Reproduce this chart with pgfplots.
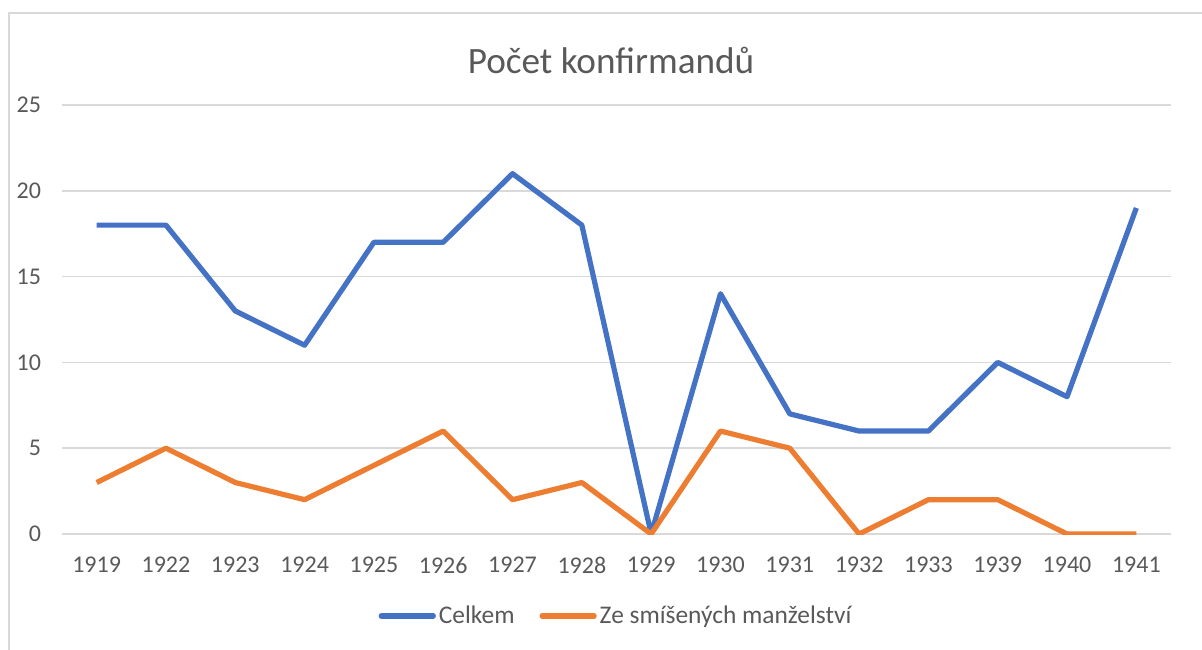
\documentclass[border=0pt]{standalone}
\usepackage{pgfplots}
\pgfplotsset{compat=1.18}
\usepackage{fontspec}
\setmainfont{Carlito}
\definecolor{cblue}{HTML}{4472C4}
\definecolor{corange}{HTML}{ED7D31}
\definecolor{cgrid}{HTML}{D9D9D9}
\definecolor{ctext}{HTML}{595959}
\begin{document}
\begin{tikzpicture}
\useasboundingbox (0pt,0pt) rectangle (601pt,324.5pt);
\begin{scope}
\clip (0pt,0pt) rectangle (601pt,324.5pt);
\draw[cgrid, line width=1pt] (4.25pt,-5pt) -- (4.25pt,317.75pt) -- (610pt,317.75pt);
\end{scope}
\node[text=ctext, font=\fontsize{18.6}{22}\selectfont] at (305.5pt,294.5pt) {Počet konfirmandů};
\begin{axis}[
  at={(31pt,57.5pt)}, anchor=south west,
  scale only axis, width=554.5pt, height=214.5pt,
  xmin=-0.5, xmax=15.5, ymin=0, ymax=25,
  xtick={0,...,15},
  xticklabels={1919,1922,1923,1924,1925,1926,1927,1928,1929,1930,1931,1932,1933,1939,1940,1941},
  ytick={0,5,10,15,20,25},
  ymajorgrids, grid style={cgrid, line width=0.75pt},
  axis line style={draw=none},
  major tick length=0pt,
  /pgf/number format/assume math mode=true,
  ticklabel style={text=ctext, font=\fontsize{12}{14}\selectfont},
  yticklabel style={anchor=east, xshift=-7pt},
  xticklabel style={anchor=center, yshift=-15.5pt},
  legend columns=2,
  legend style={at={(0.5,-0.191)}, anchor=center, draw=none, fill=none,
    font=\fontsize{12.7}{15}\selectfont, text=ctext,
    nodes={inner xsep=1.5pt},
    /tikz/every even column/.append style={column sep=11pt}},
  legend image code/.code={\draw[#1, line cap=round] (0pt,0pt) -- (26pt,0pt);},
]
\addplot[cblue, line width=2.6pt, line join=round] coordinates {
(0,18) (1,18) (2,13) (3,11) (4,17) (5,17) (6,21) (7,18) (8,0) (9,14) (10,7) (11,6) (12,6) (13,10) (14,8) (15,19)};
\addlegendentry{Celkem}
\addplot[corange, line width=2.6pt, line join=round] coordinates {
(0,3) (1,5) (2,3) (3,2) (4,4) (5,6) (6,2) (7,3) (8,0) (9,6) (10,5) (11,0) (12,2) (13,2) (14,0) (15,0)};
\addlegendentry{Ze smíšených manželství}
\end{axis}
\end{tikzpicture}
\end{document}
